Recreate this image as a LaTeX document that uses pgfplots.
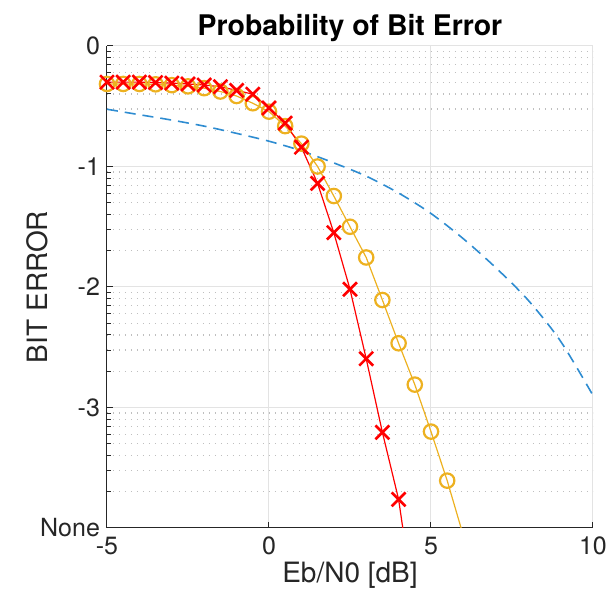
\documentclass[border=0pt]{standalone}
\usepackage{fontspec}
\setmainfont{TeX Gyre Heros}
\usepackage{pgfplots}
\pgfplotsset{compat=1.18}

\definecolor{mblue}{rgb}{0.18,0.55,0.82}
\definecolor{myellow}{rgb}{0.929,0.694,0.125}
\definecolor{axgray}{rgb}{0.15,0.15,0.15}

\begin{document}
\begin{tikzpicture}
\begin{axis}[
    scale only axis,
    width=243pt, height=241pt,
    xmin=-5, xmax=10, ymin=-4, ymax=0,
    axis x line*=bottom, axis y line*=left,
    axis line style={axgray, line width=0.5pt, -},
    xtick={-5,0,5,10}, xticklabels={-5,0,5,10},
    ytick={-4,-3,-2,-1,0}, yticklabels={None,-3,-2,-1,0},
    % log-decade minor positions, values on the axis are exponents
    minor ytick={-3.699,-3.523,-3.398,-3.301,-3.222,-3.155,-3.097,-3.046,
                 -2.699,-2.523,-2.398,-2.301,-2.222,-2.155,-2.097,-2.046,
                 -1.699,-1.523,-1.398,-1.301,-1.222,-1.155,-1.097,-1.046,
                 -0.699,-0.523,-0.398,-0.301,-0.222,-0.155,-0.097,-0.046},
    tick align=inside,
    major tick length=3pt, minor tick length=1.8pt,
    tick style={axgray, line width=0.5pt},
    xmajorgrids, ymajorgrids, yminorgrids,
    major grid style={gray!22, line width=0.5pt},
    minor grid style={gray!50, line width=0.6pt, dash pattern=on 0.6pt off 2.4pt},
    tick label style={font=\fontsize{12.5}{14}\selectfont, text=axgray},
    /pgf/number format/assume math mode=true,
    xticklabel style={yshift=-1pt},
    title={Probability of Bit Error},
    title style={at={(axis description cs:0.5,1)}, anchor=center, yshift=3pt,
                 font=\fontsize{14.2}{16}\bfseries\selectfont},
    xlabel={Eb/N0 [dB]},
    xlabel style={at={(axis description cs:0.5,0)}, anchor=base, yshift=-27.3pt,
                  font=\fontsize{14}{16}\selectfont, text=axgray},
    ylabel={BIT ERROR},
    ylabel style={at={(axis description cs:-0.144,0.5)}, anchor=center,
                  font=\fontsize{14}{16}\selectfont, text=axgray},
]

% dashed reference curve (log10 of probability)
\addplot[mblue, line width=0.8pt, dash pattern=on 5.5pt off 3.5pt, smooth] coordinates {
    (-5,-0.525) (-4,-0.57) (-3,-0.615) (-2,-0.665) (-1,-0.725) (0,-0.79)
    (1,-0.87) (2,-0.97) (3,-1.08) (4,-1.22) (5,-1.39) (6,-1.60)
    (7,-1.84) (8,-2.11) (9,-2.45) (10,-2.90)
};

\addplot[myellow, line width=0.6pt, mark=o, mark size=3.6pt,
    mark options={line width=1.1pt, solid},
    mark indices={1,2,3,4,5,6,7,8,9,10,11,12,13,14,15,16,17,18,19,20,21,22}] coordinates {
    (-5,-0.315) (-4.5,-0.315) (-4,-0.315) (-3.5,-0.318) (-3,-0.325)
    (-2.5,-0.335) (-2,-0.35) (-1.5,-0.378) (-1,-0.415) (-0.5,-0.475)
    (0,-0.545) (0.5,-0.665) (1,-0.81) (1.5,-1.0) (2,-1.245)
    (2.5,-1.50) (3,-1.755) (3.5,-2.108) (4,-2.467) (4.5,-2.81)
    (5,-3.2) (5.5,-3.607) (6,-4.065)
};

\addplot[red, line width=0.6pt, mark=x, mark size=4.9pt,
    mark options={line width=1.3pt, solid},
    mark indices={1,2,3,4,5,6,7,8,9,10,11,12,13,14,15,16,17,18,19}] coordinates {
    (-5,-0.30) (-4.5,-0.30) (-4,-0.30) (-3.5,-0.303) (-3,-0.308)
    (-2.5,-0.315) (-2,-0.324) (-1.5,-0.338) (-1,-0.368) (-0.5,-0.40)
    (0,-0.515) (0.5,-0.64) (1,-0.84) (1.5,-1.14) (2,-1.549)
    (2.5,-2.019) (3,-2.595) (3.5,-3.206) (4,-3.762) (4.5,-4.68)
};
\end{axis}
\pgfresetboundingbox
\path ([xshift=-53.5pt,yshift=-30.5pt]current axis.south west)
    rectangle ([xshift=6.5pt,yshift=23pt]current axis.north east);
\end{tikzpicture}
\end{document}
